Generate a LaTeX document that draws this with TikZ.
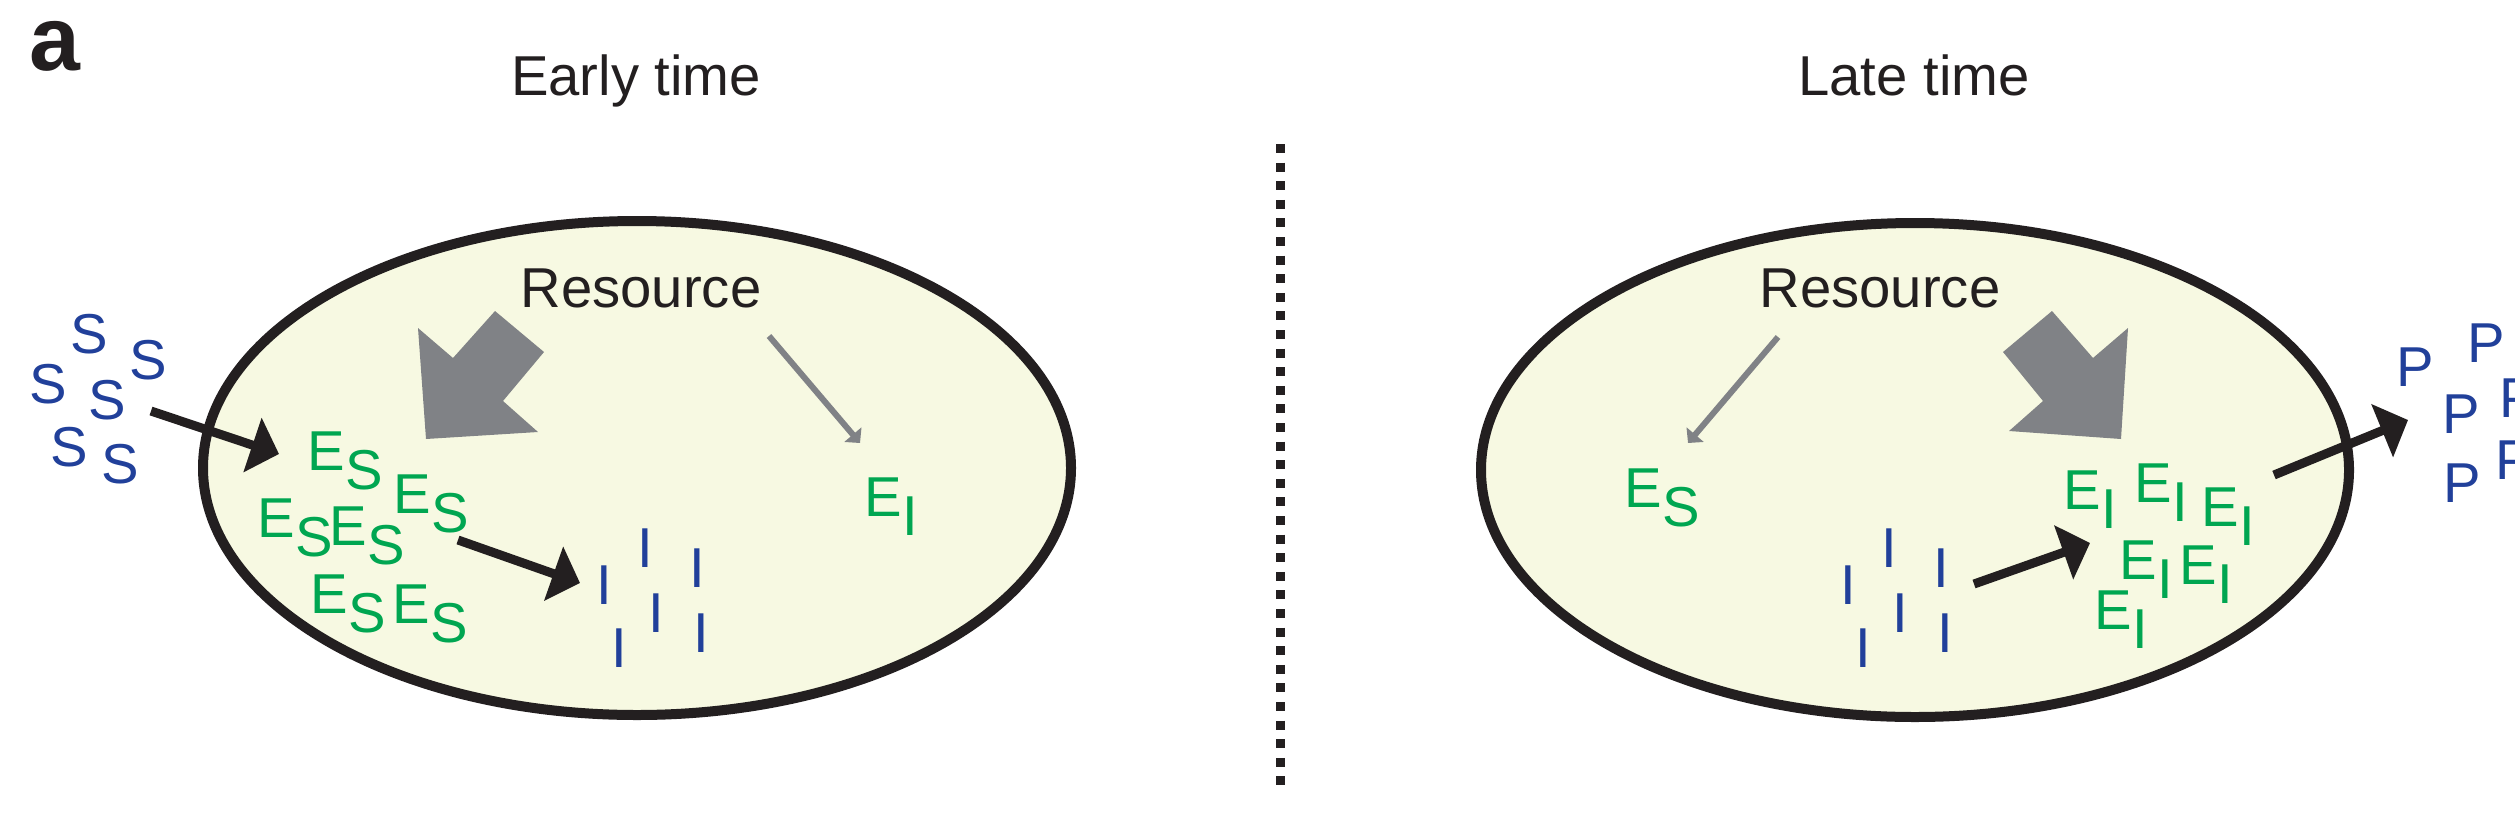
\documentclass[tikz,border=0pt]{standalone}
\usepackage{fontspec}
\setmainfont{Liberation Sans}
\usepackage{xcolor}
\definecolor{cellfill}{RGB}{247,249,226}
\definecolor{inkblack}{RGB}{35,31,32}
\definecolor{resgray}{RGB}{128,130,134}
\definecolor{enzgreen}{RGB}{0,166,81}
\definecolor{molblue}{RGB}{33,64,154}
\usetikzlibrary{arrows.meta}
\newcommand{\figfont}{\fontsize{16}{19}\selectfont}
\newcommand{\Esub}[1]{E\raisebox{-1.95mm}{#1}}

\begin{document}
\begin{tikzpicture}[x=0.1mm, y=-0.1mm,
  cell/.style={draw=inkblack, fill=cellfill, line width=1.0mm},
  ttl/.style={font=\figfont, text=inkblack, inner sep=0pt, anchor=base},
  mol/.style={font=\figfont, text=molblue, inner sep=0pt},
  enz/.style={font=\figfont, text=enzgreen, inner sep=0pt, anchor=base west},
  arr/.style={draw=inkblack, line width=0.9mm, -{Triangle[length=2.8mm, width=5.6mm]}},
  garr/.style={draw=resgray, line width=0.6mm, -{Triangle[length=1.1mm, width=2.2mm]}},
  blk/.style={fill=resgray},
  divider/.style={draw=inkblack, line width=0.9mm, dash pattern=on 0.9mm off 0.96mm}
]
\useasboundingbox (0,0) rectangle (2515,839);
\clip (0,0) rectangle (2515,839);

% Panel label and titles
\node[font=\fontsize{26}{30}\selectfont\bfseries, text=inkblack, inner sep=0pt] (panel) at (55,46) {a};
\node[ttl] (early) at (636,95) {Early time};
\node[ttl] (late)  at (1914,95) {Late time};

% Divider
\draw[divider] (1280,144) -- (1280,790);

% Cells
\draw[cell] (637,468) ellipse [x radius=434, y radius=247];
\draw[cell] (1915,470) ellipse [x radius=434, y radius=247];

% ---------- Early time ----------
\node[ttl] (resL) at (641,307) {Resource};

\fill[blk] (418,328) -- (453,358) -- (495,311) -- (544,352) -- (503,401)
  -- (538,432) -- (426,439) -- cycle;

% Substrate outside
\node[mol] (s1) at (89,334)  {S};
\node[mol] (s2) at (148,360) {S};
\node[mol] (s3) at (48,384)  {S};
\node[mol] (s4) at (107,400) {S};
\node[mol] (s5) at (69,447)  {S};
\node[mol] (s6) at (120,464) {S};

% Enzymes
\node[enz] (es1) at (307,470) {\Esub{S}};
\node[enz] (es2) at (393,513) {\Esub{S}};
\node[enz] (es3) at (257,537) {\Esub{S}};
\node[enz] (es4) at (329,545) {\Esub{S}};
\node[enz] (es5) at (310,613) {\Esub{S}};
\node[enz] (es6) at (392,623) {\Esub{S}};
\node[enz] (ei0) at (864,516) {\Esub{I}};

% Intermediate
\node[mol] (i1) at (604,585)   {I};
\node[mol] (i2) at (645.5,548) {I};
\node[mol] (i3) at (697,568)   {I};
\node[mol] (i4) at (656.5,613) {I};
\node[mol] (i5) at (619,648)   {I};
\node[mol] (i6) at (701,633)   {I};

\coordinate (uptakeA) at (151,411);
\coordinate (uptakeB) at (279,454);
\coordinate (convA)   at (458,540);
\coordinate (convB)   at (580,583);
\coordinate (weakA)   at (769,336);
\coordinate (weakB)   at (860,443);
\draw[arr]  (uptakeA) -- (uptakeB);
\draw[arr]  (convA) -- (convB);
\draw[garr] (weakA) -- (weakB);

% ---------- Late time ----------
\node[ttl] (resR) at (1880,307) {Resource};

\fill[blk] (2052,311) -- (2093,358) -- (2128,328) -- (2121,439) -- (2009,431)
  -- (2043,401) -- (2003,352) -- cycle;

\node[enz] (esR) at (1624,507) {\Esub{S}};
\node[enz] (ei1) at (2063,509) {\Esub{I}};
\node[enz] (ei2) at (2134,502) {\Esub{I}};
\node[enz] (ei3) at (2201,526) {\Esub{I}};
\node[enz] (ei4) at (2119,579) {\Esub{I}};
\node[enz] (ei5) at (2179,584) {\Esub{I}};
\node[enz] (ei6) at (2094,629) {\Esub{I}};

\node[mol] (j1) at (1848,585)   {I};
\node[mol] (j2) at (1889.5,548) {I};
\node[mol] (j3) at (1941,568)   {I};
\node[mol] (j4) at (1900.5,613) {I};
\node[mol] (j5) at (1863,648)   {I};
\node[mol] (j6) at (1945,633)   {I};

% Product outside
\node[mol] (p1) at (2415,367)   {P};
\node[mol] (p2) at (2486,343.5) {P};
\node[mol] (p3) at (2461,414.5) {P};
\node[mol] (p4) at (2518,398)   {P};
\node[mol] (p5) at (2462,483)   {P};
\node[mol] (p6) at (2514,460)   {P};

\coordinate (lateA)   at (1974,584);
\coordinate (lateB)   at (2090,543);
\coordinate (exportA) at (2274,475);
\coordinate (exportB) at (2408,420);
\coordinate (weakC)   at (1778,337);
\coordinate (weakD)   at (1688,443);
\draw[arr]  (lateA) -- (lateB);
\draw[arr]  (exportA) -- (exportB);
\draw[garr] (weakC) -- (weakD);
\end{tikzpicture}
\end{document}
